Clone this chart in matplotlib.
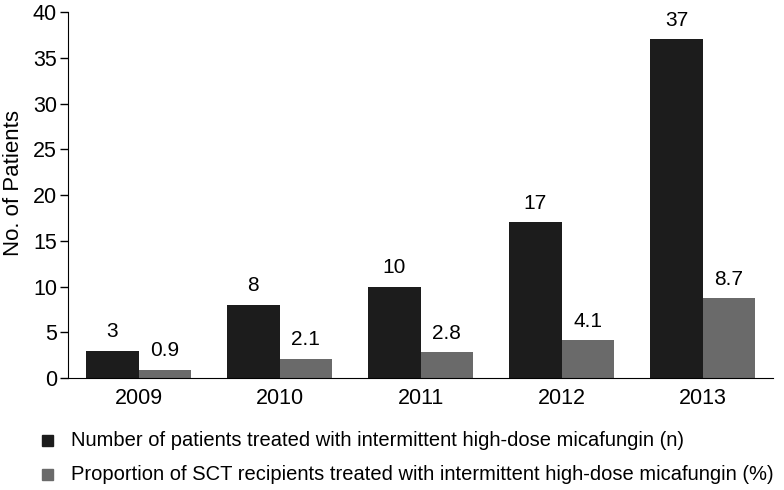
import matplotlib
matplotlib.use("Agg")
import matplotlib.pyplot as plt
import numpy as np
from matplotlib.patches import Rectangle

plt.rcParams['font.family'] = ['Liberation Sans', 'DejaVu Sans']

years = ["2009", "2010", "2011", "2012", "2013"]
patients = [3, 8, 10, 17, 37]
proportion = [0.9, 2.1, 2.8, 4.1, 8.7]
labels_n = ["3", "8", "10", "17", "37"]
labels_p = ["0.9", "2.1", "2.8", "4.1", "8.7"]
legend_labels = ["Number of patients treated with intermittent high-dose micafungin (n)",
                 "Proportion of SCT recipients treated with intermittent high-dose micafungin (%)"]

c_dark = "#1c1c1c"
c_gray = "#6a6a6a"

W, H = 784, 490
fig = plt.figure(figsize=(7.84, 4.9), dpi=100)
ax = fig.add_axes([68 / W, 112 / H, 705 / W, 366 / H])
x = np.arange(len(years))
w = 0.37
ax.bar(x - w / 2, patients, w, color=c_dark)
ax.bar(x + w / 2, proportion, w, color=c_gray)
for xi, v, t in zip(x, patients, labels_n):
    ax.annotate(t, (xi - w / 2, v), xytext=(0, 7), textcoords="offset points",
                ha="center", va="bottom", fontsize=15)
for xi, v, t in zip(x, proportion, labels_p):
    ax.annotate(t, (xi + w / 2, v), xytext=(0, 7), textcoords="offset points",
                ha="center", va="bottom", fontsize=15)

ax.set_xlim(-0.5, 4.5)
ax.set_ylim(0, 40)
ax.set_yticks(range(0, 41, 5))
ax.set_xticks(x)
ax.set_xticklabels(years)
ax.tick_params(axis='x', length=0, labelsize=15.5, pad=7)
ax.tick_params(axis='y', direction='out', length=6, labelsize=15.5, width=1, pad=2)
ax.spines['top'].set_visible(False)
ax.spines['right'].set_visible(False)
ax.set_ylabel("No. of Patients", fontsize=16)
ax.yaxis.set_label_coords(-44 / 705, 0.533)

# legend drawn manually
rows_y = [440, 474]
for yy, col, lab in zip(rows_y, [c_dark, c_gray], legend_labels):
    fig.patches.append(Rectangle((42 / W, 1 - (yy + 5.5) / H), 11 / W, 11 / H,
                                 transform=fig.transFigure, color=col, figure=fig))
    fig.text(71 / W, 1 - yy / H, lab, fontsize=14.5, va="center", ha="left")

fig.savefig("out.png", dpi=100)
